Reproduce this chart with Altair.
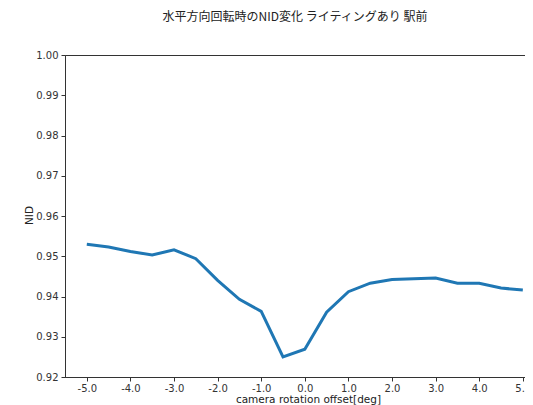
import altair as alt
import pandas as pd

offsets = [-5.0, -4.5, -4.0, -3.5, -3.0, -2.5, -2.0, -1.5, -1.0, -0.5, 0.0,
           0.5, 1.0, 1.5, 2.0, 2.5, 3.0, 3.5, 4.0, 4.5, 5.0]
nid = [0.9530, 0.9523, 0.9512, 0.9503, 0.9516, 0.9494, 0.9440, 0.9393, 0.9363, 0.9250, 0.9269,
       0.9361, 0.9412, 0.9433, 0.9442, 0.9444, 0.9446, 0.9433, 0.9433, 0.9421, 0.9416]
x_ticks = [-5.0, -4.0, -3.0, -2.0, -1.0, 0.0, 1.0, 2.0, 3.0, 4.0, 5.0]
y_ticks = [0.92, 0.93, 0.94, 0.95, 0.96, 0.97, 0.98, 0.99, 1.00]

df = pd.DataFrame({"offset": offsets, "nid": nid})

font = "DejaVu Sans"

chart = alt.Chart(df).mark_line(color="#1f77b4", strokeWidth=3, clip=True).encode(
    x=alt.X("offset:Q",
            scale=alt.Scale(domain=[-5.5, 5.05], nice=False, zero=False),
            axis=alt.Axis(values=x_ticks, title="camera rotation offset[deg]",
                          labelExpr="replace(format(datum.value, '.1f'), '\u2212', '-')",
                          grid=False, tickSize=4, labelPadding=2, domainColor="#333",
                          tickColor="#333", labelColor="#333", labelFont=font, labelFontSize=10,
                          titleFont=font, titleFontSize=10.5, titleFontWeight="normal",
                          titleColor="#222", titleBaseline="middle", titleY=22, titleX=243)),
    y=alt.Y("nid:Q",
            scale=alt.Scale(domain=[0.92, 1.00], nice=False, zero=False),
            axis=alt.Axis(values=y_ticks, format=".2f", title="NID",
                          grid=False, tickSize=4, labelPadding=3, domainColor="#333",
                          tickColor="#333", labelColor="#333", labelFont=font, labelFontSize=10,
                          titleFont=font, titleFontSize=10.5, titleFontWeight="normal",
                          titleColor="#222", titleX=-36, titleY=160, titleBaseline="middle")),
).properties(
    width=460,
    height=322,
    title=alt.TitleParams("水平方向回転時のNID変化 ライティングあり 駅前",
                          font="Noto Sans CJK JP", fontSize=12, fontWeight="normal",
                          color="#222", anchor="middle", offset=26, dx=0),
    autosize=alt.AutoSizeParams(type="none"),
    padding={"left": 57, "top": 47, "right": 0, "bottom": 28},
).configure_view(
    stroke="#333", strokeWidth=1
)

chart.save("out.html", embed_options={"renderer": "svg", "actions": False})
